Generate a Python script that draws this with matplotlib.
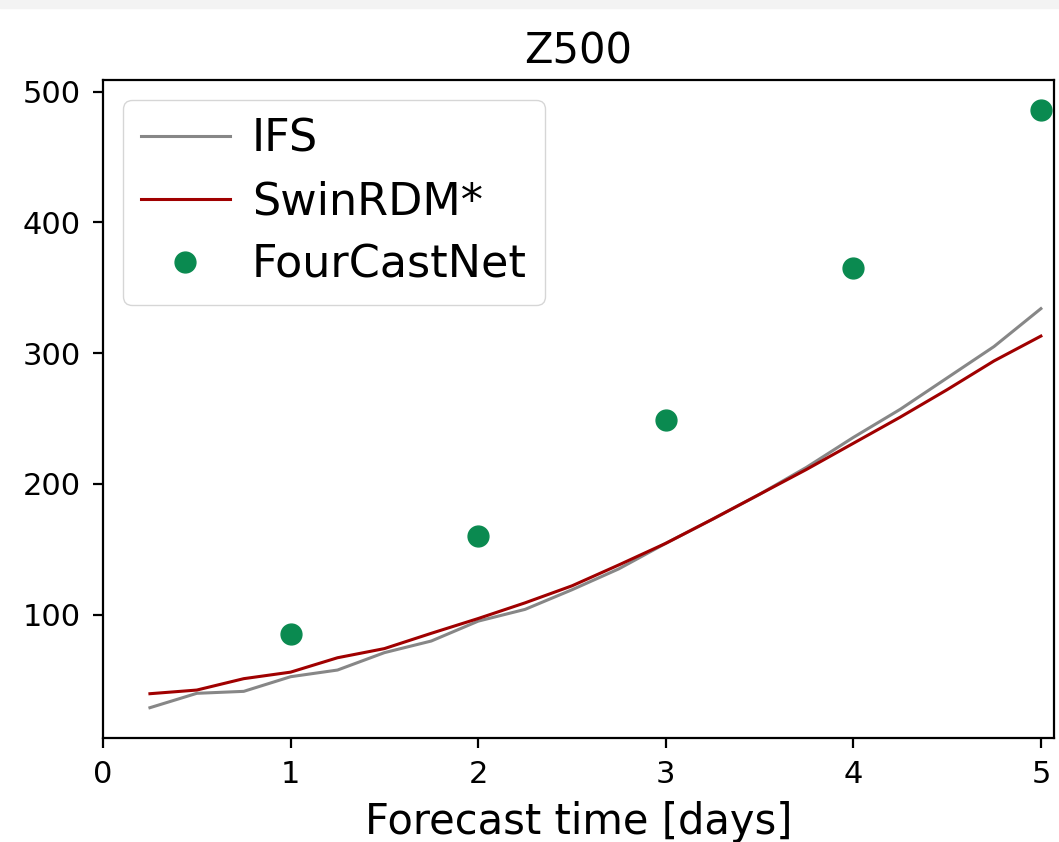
import matplotlib
matplotlib.use("Agg")
import matplotlib.pyplot as plt
from matplotlib.patches import Rectangle

days = [0.25, 0.5, 0.75, 1.0, 1.25, 1.5, 1.75, 2.0, 2.25, 2.5, 2.75, 3.0,
        3.25, 3.5, 3.75, 4.0, 4.25, 4.5, 4.75, 5.0]
ifs = [28.8, 39.8, 41.3, 52.5, 57.6, 70.9, 79.8, 95, 104, 119, 135, 154.5,
       173, 192, 212.6, 235.5, 257, 281, 305, 334]
swinrdm = [39.5, 42.3, 51, 56, 67, 74, 85.7, 97, 109, 122, 138, 154.5,
           173, 192, 211, 231, 251, 272, 294, 313]
fcn_days = [1, 2, 3, 4, 5]
fourcastnet = [85, 160, 249, 365, 486]

fig = plt.figure(figsize=(10.59, 8.42), dpi=100)
fig.patches.append(Rectangle((0, 1 - 8 / 842), 1, 8 / 842, transform=fig.transFigure,
                             color='#f3f3f3', zorder=0))
ax = fig.add_axes([0.0973, 0.124, 0.898, 0.781])

ax.plot(days, ifs, color='#878787', lw=2.2, label='IFS')
ax.plot(days, swinrdm, color='#a00000', lw=2.2, label='SwinRDM*')
ax.plot(fcn_days, fourcastnet, 'o', color='#0a8a50', markersize=15, label='FourCastNet')

ax.set_xlim(0, 5.07)
ax.set_xticks([0, 1, 2, 3, 4, 5])
ax.set_yticks([100, 200, 300, 400, 500])
ax.tick_params(labelsize=22, length=7, width=1.6, pad=9)
for s in ax.spines.values():
    s.set_linewidth(1.6)

ax.set_title('Z500', fontsize=30, pad=12)
ax.set_xlabel('Forecast time [days]', fontsize=30, labelpad=8.5)
ax.legend(loc='upper left', fontsize=32, handlelength=2.0, handletextpad=0.5,
          labelspacing=0.45, borderaxespad=0.45)

fig.savefig('out.png', dpi=100)
